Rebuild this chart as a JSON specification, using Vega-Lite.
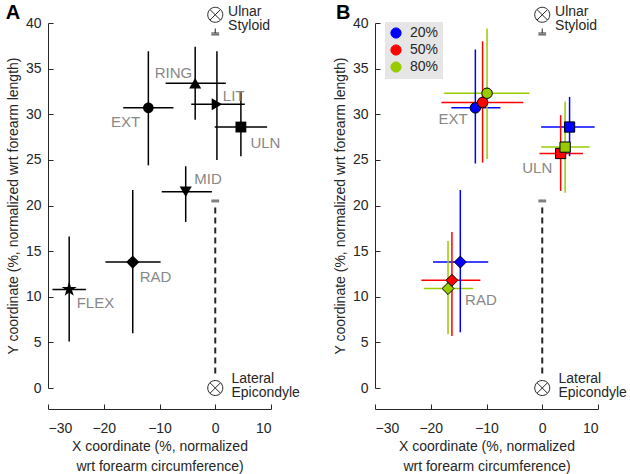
{
  "$schema": "https://vega.github.io/schema/vega-lite/v6.json",
  "background": "white",
  "padding": {"left": 5, "top": 2, "right": 5, "bottom": 5},
  "config": {
    "view": {"stroke": null},
    "font": "Liberation Sans",
    "axis": {
      "grid": false,
      "domainColor": "#262626",
      "tickColor": "#262626",
      "labelColor": "#262626",
      "titleColor": "#262626",
      "labelFont": "Liberation Sans",
      "titleFont": "Liberation Sans",
      "labelFontSize": 14,
      "titleFontSize": 14,
      "titleFontWeight": "normal",
      "tickSize": -5,
      "domainWidth": 1,
      "tickWidth": 1
    },
    "axisX": {"labelPadding": 17, "titlePadding": 4, "titleLineHeight": 20, "offset": 21},
    "axisY": {"labelPadding": 12, "titlePadding": 5}
  },
  "datasets": {
    "a": [
      {"muscle": "EXT", "x": -12.0, "y": 30.7, "xlo": -16.5, "xhi": -7.5, "ylo": 24.4, "yhi": 36.9},
      {"muscle": "RING", "x": -3.6, "y": 33.4, "xlo": -8.9, "xhi": 1.9, "ylo": 29.4, "yhi": 37.4},
      {"muscle": "LIT", "x": 0.3, "y": 31.1, "xlo": -4.3, "xhi": 5.3, "ylo": 25.0, "yhi": 36.9},
      {"muscle": "ULN", "x": 4.6, "y": 28.6, "xlo": -0.1, "xhi": 9.3, "ylo": 25.4, "yhi": 32.5},
      {"muscle": "MID", "x": -5.3, "y": 21.5, "xlo": -9.6, "xhi": -0.6, "ylo": 18.2, "yhi": 24.3},
      {"muscle": "RAD", "x": -14.8, "y": 13.8, "xlo": -19.7, "xhi": -9.8, "ylo": 6.0, "yhi": 21.7},
      {"muscle": "FLEX", "x": -26.2, "y": 10.8, "xlo": -29.2, "xhi": -23.2, "ylo": 5.1, "yhi": 16.6}
    ],
    "b": [
      {"muscle": "EXT", "pct": "20%", "x": -12.0, "y": 30.7, "xlo": -16.3, "xhi": -7.5, "ylo": 24.6, "yhi": 37.1},
      {"muscle": "EXT", "pct": "50%", "x": -10.7, "y": 31.3, "xlo": -18.1, "xhi": -3.4, "ylo": 24.7, "yhi": 38.0},
      {"muscle": "EXT", "pct": "80%", "x": -9.9, "y": 32.3, "xlo": -17.6, "xhi": -2.3, "ylo": 25.1, "yhi": 39.4},
      {"muscle": "ULN", "pct": "20%", "x": 4.9, "y": 28.6, "xlo": -0.2, "xhi": 9.4, "ylo": 25.4, "yhi": 31.9},
      {"muscle": "ULN", "pct": "50%", "x": 3.3, "y": 25.7, "xlo": -0.5, "xhi": 7.3, "ylo": 21.6, "yhi": 29.9},
      {"muscle": "ULN", "pct": "80%", "x": 4.1, "y": 26.4, "xlo": -0.2, "xhi": 8.5, "ylo": 21.4, "yhi": 31.4},
      {"muscle": "RAD", "pct": "20%", "x": -14.7, "y": 13.8, "xlo": -19.6, "xhi": -9.7, "ylo": 6.1, "yhi": 21.7},
      {"muscle": "RAD", "pct": "50%", "x": -16.2, "y": 11.8, "xlo": -21.7, "xhi": -11.1, "ylo": 5.7, "yhi": 17.1},
      {"muscle": "RAD", "pct": "80%", "x": -16.9, "y": 10.9, "xlo": -21.2, "xhi": -12.4, "ylo": 5.9, "yhi": 16.1}
    ],
    "labA": [
      {"text": "RING", "x": -7.5, "y": 34.5},
      {"text": "LIT", "x": 3.3, "y": 32.0},
      {"text": "EXT", "x": -16.1, "y": 29.2},
      {"text": "ULN", "x": 9.0, "y": 26.8},
      {"text": "MID", "x": -1.3, "y": 22.9},
      {"text": "RAD", "x": -10.7, "y": 12.2},
      {"text": "FLEX", "x": -21.5, "y": 9.3}
    ],
    "labB": [
      {"text": "EXT", "x": -16.0, "y": 29.5},
      {"text": "ULN", "x": -0.9, "y": 24.1},
      {"text": "RAD", "x": -11.0, "y": 9.6}
    ],
    "letA": [{"text": "A", "x": -36.3, "y": 41.1}],
    "letB": [{"text": "B", "x": -35.7, "y": 41.1}],
    "lm": [
      {"name": "Ulnar Styloid", "x": 0, "y": 40.9},
      {"name": "Lateral Epicondyle", "x": 0, "y": 0}
    ],
    "lmt": [
      {"text": ["Ulnar", "Styloid"], "x": 2.3, "y": 41.2},
      {"text": ["Lateral", "Epicondyle"], "x": 2.9, "y": 1.0}
    ],
    "dash": [{"x": 0, "y": 1.6, "y2": 20.2}],
    "gtick": [{"x": -0.7, "x2": 0.7, "y": 20.5}],
    "gv": [{"x": 0, "y": 39.4, "y2": 38.9}],
    "gh": [{"x": -0.7, "x2": 0.7, "y": 38.9}, {"x": -0.7, "x2": 0.7, "y": 38.7}]
  },
  "resolve": {"scale": {"x": "independent", "y": "independent", "shape": "independent", "color": "independent"}},
  "spacing": 104,
  "bounds": "flush",
  "hconcat": [
    {
      "width": 223,
      "height": 365,
      "layer": [
        {
          "data": {"name": "a"},
          "mark": {"type": "rule", "color": "black", "strokeWidth": 1.5},
          "encoding": {
            "x": {"field": "xlo", "type": "quantitative", "scale": {"domain": [-30, 10], "nice": false, "zero": false}, "axis": {"values": [-30, -20, -10, 0, 10], "title": ["X coordinate (%, normalized", "wrt forearm circumference)"]}},
            "x2": {"field": "xhi"},
            "y": {"field": "y", "type": "quantitative", "scale": {"domain": [0, 40], "nice": false, "zero": false}, "axis": {"values": [0, 5, 10, 15, 20, 25, 30, 35, 40], "title": "Y coordinate (%, normalized wrt forearm length)"}}
          }
        },
        {
          "data": {"name": "a"},
          "mark": {"type": "rule", "color": "black", "strokeWidth": 1.5},
          "encoding": {
            "x": {"field": "x", "type": "quantitative", "scale": {"domain": [-30, 10], "nice": false, "zero": false}},
            "y": {"field": "ylo", "type": "quantitative", "scale": {"domain": [0, 40], "nice": false, "zero": false}},
            "y2": {"field": "yhi"}
          }
        },
        {
          "data": {"name": "a"},
          "mark": {"type": "point", "filled": true, "color": "black", "opacity": 1, "size": 145},
          "encoding": {
            "x": {"field": "x", "type": "quantitative", "scale": {"domain": [-30, 10], "nice": false, "zero": false}},
            "y": {"field": "y", "type": "quantitative", "scale": {"domain": [0, 40], "nice": false, "zero": false}},
            "shape": {"field": "muscle", "type": "nominal", "legend": null, "scale": {"domain": ["EXT", "RING", "LIT", "ULN", "MID", "RAD", "FLEX"], "range": ["M0.88,0A0.88,0.88,0,1,1,-0.88,0A0.88,0.88,0,1,1,0.88,0Z", "triangle-up", "triangle-right", "M-0.9,-0.9L0.9,-0.9L0.9,0.9L-0.9,0.9Z", "triangle-down", "M-1.1,0L0,-1.1L1.1,0L0,1.1Z", "M0,-1.3L0.29,-0.4L1.24,-0.4L0.47,0.15L0.76,1.05L0,0.5L-0.76,1.05L-0.47,0.15L-1.24,-0.4L-0.29,-0.4Z"]}}
          }
        },
        {
          "data": {"name": "labA"},
          "mark": {"type": "text", "color": "#888888", "fontSize": 15, "font": "Liberation Sans", "align": "center", "baseline": "middle"},
          "encoding": {
            "x": {"field": "x", "type": "quantitative", "scale": {"domain": [-30, 10], "nice": false, "zero": false}},
            "y": {"field": "y", "type": "quantitative", "scale": {"domain": [0, 40], "nice": false, "zero": false}},
            "text": {"field": "text"}
          }
        },
        {
          "data": {"name": "letA"},
          "mark": {"type": "text", "color": "black", "fontSize": 20, "fontWeight": "bold", "font": "Liberation Sans", "align": "center", "baseline": "middle"},
          "encoding": {
            "x": {"field": "x", "type": "quantitative", "scale": {"domain": [-30, 10], "nice": false, "zero": false}},
            "y": {"field": "y", "type": "quantitative", "scale": {"domain": [0, 40], "nice": false, "zero": false}},
            "text": {"field": "text"}
          }
        },
        {
          "data": {"name": "dash"},
          "mark": {"type": "rule", "color": "#262626", "strokeWidth": 2, "strokeDash": [6, 4]},
          "encoding": {
            "x": {"field": "x", "type": "quantitative", "scale": {"domain": [-30, 10], "nice": false, "zero": false}},
            "y": {"field": "y", "type": "quantitative", "scale": {"domain": [0, 40], "nice": false, "zero": false}},
            "y2": {"field": "y2"}
          }
        },
        {
          "data": {"name": "gtick"},
          "mark": {"type": "rule", "color": "#808080", "strokeWidth": 3},
          "encoding": {
            "x": {"field": "x", "type": "quantitative", "scale": {"domain": [-30, 10], "nice": false, "zero": false}},
            "x2": {"field": "x2"},
            "y": {"field": "y", "type": "quantitative", "scale": {"domain": [0, 40], "nice": false, "zero": false}}
          }
        },
        {
          "data": {"name": "gv"},
          "mark": {"type": "rule", "color": "#262626", "strokeWidth": 1},
          "encoding": {
            "x": {"field": "x", "type": "quantitative", "scale": {"domain": [-30, 10], "nice": false, "zero": false}},
            "y": {"field": "y", "type": "quantitative", "scale": {"domain": [0, 40], "nice": false, "zero": false}},
            "y2": {"field": "y2"}
          }
        },
        {
          "data": {"name": "gh"},
          "mark": {"type": "rule", "color": "#262626", "strokeWidth": 1},
          "encoding": {
            "x": {"field": "x", "type": "quantitative", "scale": {"domain": [-30, 10], "nice": false, "zero": false}},
            "x2": {"field": "x2"},
            "y": {"field": "y", "type": "quantitative", "scale": {"domain": [0, 40], "nice": false, "zero": false}}
          }
        },
        {
          "data": {"name": "lm"},
          "mark": {"type": "point", "filled": false, "color": "#262626", "strokeWidth": 1, "opacity": 1, "size": 225, "shape": "M1,0A1,1,0,1,1,-1,0A1,1,0,1,1,1,0M-0.7,-0.7L0.7,0.7M-0.7,0.7L0.7,-0.7"},
          "encoding": {
            "x": {"field": "x", "type": "quantitative", "scale": {"domain": [-30, 10], "nice": false, "zero": false}},
            "y": {"field": "y", "type": "quantitative", "scale": {"domain": [0, 40], "nice": false, "zero": false}}
          }
        },
        {
          "data": {"name": "lmt"},
          "mark": {"type": "text", "color": "#262626", "fontSize": 14, "lineHeight": 14, "font": "Liberation Sans", "align": "left", "baseline": "middle"},
          "encoding": {
            "x": {"field": "x", "type": "quantitative", "scale": {"domain": [-30, 10], "nice": false, "zero": false}},
            "y": {"field": "y", "type": "quantitative", "scale": {"domain": [0, 40], "nice": false, "zero": false}},
            "text": {"field": "text"}
          }
        }
      ]
    },
    {
      "width": 223,
      "height": 365,
      "layer": [
        {
          "data": {"name": "b"},
          "mark": {"type": "rule", "strokeWidth": 1.5},
          "encoding": {
            "x": {"field": "xlo", "type": "quantitative", "scale": {"domain": [-30, 10], "nice": false, "zero": false}, "axis": {"values": [-30, -20, -10, 0, 10], "title": ["X coordinate (%, normalized", "wrt forearm circumference)"]}},
            "x2": {"field": "xhi"},
            "y": {"field": "y", "type": "quantitative", "scale": {"domain": [0, 40], "nice": false, "zero": false}, "axis": {"values": [0, 5, 10, 15, 20, 25, 30, 35, 40], "title": "Y coordinate (%, normalized wrt forearm length)"}},
            "color": {"field": "pct", "type": "nominal", "scale": {"domain": ["20%", "50%", "80%"], "range": ["#0000ff", "#ff0000", "#99cc00"]}, "legend": {"orient": "none", "legendX": 10, "legendY": -1, "title": null, "fillColor": "#e6e6e6", "padding": 4, "labelFontSize": 14, "labelFont": "Liberation Sans", "labelColor": "#262626", "symbolSize": 105, "symbolType": "circle", "symbolStrokeColor": "black", "symbolStrokeWidth": 1, "symbolOpacity": 1, "rowPadding": 1, "labelOffset": 7}}
          }
        },
        {
          "data": {"name": "b"},
          "mark": {"type": "rule", "strokeWidth": 1.5},
          "encoding": {
            "x": {"field": "x", "type": "quantitative", "scale": {"domain": [-30, 10], "nice": false, "zero": false}},
            "y": {"field": "ylo", "type": "quantitative", "scale": {"domain": [0, 40], "nice": false, "zero": false}},
            "y2": {"field": "yhi"},
            "color": {"field": "pct", "type": "nominal", "scale": {"domain": ["20%", "50%", "80%"], "range": ["#0000ff", "#ff0000", "#99cc00"]}, "legend": {"orient": "none", "legendX": 10, "legendY": -1, "title": null, "fillColor": "#e6e6e6", "padding": 4, "labelFontSize": 14, "labelFont": "Liberation Sans", "labelColor": "#262626", "symbolSize": 105, "symbolType": "circle", "symbolStrokeColor": "black", "symbolStrokeWidth": 1, "symbolOpacity": 1, "rowPadding": 1, "labelOffset": 7}}
          }
        },
        {
          "data": {"name": "b"},
          "mark": {"type": "point", "filled": true, "stroke": "black", "strokeWidth": 1, "opacity": 1, "size": 130},
          "encoding": {
            "x": {"field": "x", "type": "quantitative", "scale": {"domain": [-30, 10], "nice": false, "zero": false}},
            "y": {"field": "y", "type": "quantitative", "scale": {"domain": [0, 40], "nice": false, "zero": false}},
            "color": {"field": "pct", "type": "nominal", "scale": {"domain": ["20%", "50%", "80%"], "range": ["#0000ff", "#ff0000", "#99cc00"]}, "legend": {"orient": "none", "legendX": 10, "legendY": -1, "title": null, "fillColor": "#e6e6e6", "padding": 4, "labelFontSize": 14, "labelFont": "Liberation Sans", "labelColor": "#262626", "symbolSize": 105, "symbolType": "circle", "symbolStrokeColor": "black", "symbolStrokeWidth": 1, "symbolOpacity": 1, "rowPadding": 1, "labelOffset": 7}},
            "shape": {"field": "muscle", "type": "nominal", "legend": null, "scale": {"domain": ["EXT", "ULN", "RAD"], "range": ["M0.92,0A0.92,0.92,0,1,1,-0.92,0A0.92,0.92,0,1,1,0.92,0Z", "M-0.9,-0.9L0.9,-0.9L0.9,0.9L-0.9,0.9Z", "M-1.05,0L0,-1.05L1.05,0L0,1.05Z"]}}
          }
        },
        {
          "data": {"name": "labB"},
          "mark": {"type": "text", "color": "#888888", "fontSize": 15, "font": "Liberation Sans", "align": "center", "baseline": "middle"},
          "encoding": {
            "x": {"field": "x", "type": "quantitative", "scale": {"domain": [-30, 10], "nice": false, "zero": false}},
            "y": {"field": "y", "type": "quantitative", "scale": {"domain": [0, 40], "nice": false, "zero": false}},
            "text": {"field": "text"}
          }
        },
        {
          "data": {"name": "letB"},
          "mark": {"type": "text", "color": "black", "fontSize": 20, "fontWeight": "bold", "font": "Liberation Sans", "align": "center", "baseline": "middle"},
          "encoding": {
            "x": {"field": "x", "type": "quantitative", "scale": {"domain": [-30, 10], "nice": false, "zero": false}},
            "y": {"field": "y", "type": "quantitative", "scale": {"domain": [0, 40], "nice": false, "zero": false}},
            "text": {"field": "text"}
          }
        },
        {
          "data": {"name": "dash"},
          "mark": {"type": "rule", "color": "#262626", "strokeWidth": 2, "strokeDash": [6, 4]},
          "encoding": {
            "x": {"field": "x", "type": "quantitative", "scale": {"domain": [-30, 10], "nice": false, "zero": false}},
            "y": {"field": "y", "type": "quantitative", "scale": {"domain": [0, 40], "nice": false, "zero": false}},
            "y2": {"field": "y2"}
          }
        },
        {
          "data": {"name": "gtick"},
          "mark": {"type": "rule", "color": "#808080", "strokeWidth": 3},
          "encoding": {
            "x": {"field": "x", "type": "quantitative", "scale": {"domain": [-30, 10], "nice": false, "zero": false}},
            "x2": {"field": "x2"},
            "y": {"field": "y", "type": "quantitative", "scale": {"domain": [0, 40], "nice": false, "zero": false}}
          }
        },
        {
          "data": {"name": "gv"},
          "mark": {"type": "rule", "color": "#262626", "strokeWidth": 1},
          "encoding": {
            "x": {"field": "x", "type": "quantitative", "scale": {"domain": [-30, 10], "nice": false, "zero": false}},
            "y": {"field": "y", "type": "quantitative", "scale": {"domain": [0, 40], "nice": false, "zero": false}},
            "y2": {"field": "y2"}
          }
        },
        {
          "data": {"name": "gh"},
          "mark": {"type": "rule", "color": "#262626", "strokeWidth": 1},
          "encoding": {
            "x": {"field": "x", "type": "quantitative", "scale": {"domain": [-30, 10], "nice": false, "zero": false}},
            "x2": {"field": "x2"},
            "y": {"field": "y", "type": "quantitative", "scale": {"domain": [0, 40], "nice": false, "zero": false}}
          }
        },
        {
          "data": {"name": "lm"},
          "mark": {"type": "point", "filled": false, "color": "#262626", "strokeWidth": 1, "opacity": 1, "size": 225, "shape": "M1,0A1,1,0,1,1,-1,0A1,1,0,1,1,1,0M-0.7,-0.7L0.7,0.7M-0.7,0.7L0.7,-0.7"},
          "encoding": {
            "x": {"field": "x", "type": "quantitative", "scale": {"domain": [-30, 10], "nice": false, "zero": false}},
            "y": {"field": "y", "type": "quantitative", "scale": {"domain": [0, 40], "nice": false, "zero": false}}
          }
        },
        {
          "data": {"name": "lmt"},
          "mark": {"type": "text", "color": "#262626", "fontSize": 14, "lineHeight": 14, "font": "Liberation Sans", "align": "left", "baseline": "middle"},
          "encoding": {
            "x": {"field": "x", "type": "quantitative", "scale": {"domain": [-30, 10], "nice": false, "zero": false}},
            "y": {"field": "y", "type": "quantitative", "scale": {"domain": [0, 40], "nice": false, "zero": false}},
            "text": {"field": "text"}
          }
        }
      ]
    }
  ]
}
